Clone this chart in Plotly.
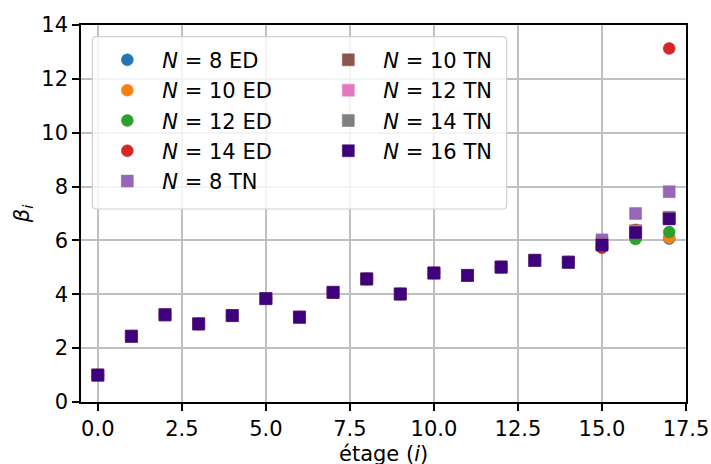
import plotly.graph_objects as go

stages = list(range(18))

common = [1.00, 2.44, 3.24, 2.90, 3.21, 3.84, 3.15, 4.07, 4.57, 4.01,
          4.79, 4.70, 5.01, 5.26, 5.19]

ed_n8 = common + [5.74, 6.12, 6.07]
ed_n10 = common + [5.75, 6.15, 6.11]
ed_n12 = common + [5.76, 6.05, 6.31]
ed_n14 = common + [5.74, 6.39, 13.13]

tn_n8 = common + [6.02, 7.00, 7.81]
tn_n10 = common + [5.88, 6.36, 6.86]
tn_n12 = common + [5.86, 6.33, 6.84]
tn_n14 = common + [5.84, 6.30, 6.82]
tn_n16 = common + [5.83, 6.29, 6.80]

series = [
    ("<i>N</i> = 8 ED", ed_n8, "circle", "#1f77b4", 1),
    ("<i>N</i> = 10 ED", ed_n10, "circle", "#ff7f0e", 3),
    ("<i>N</i> = 12 ED", ed_n12, "circle", "#2ca02c", 5),
    ("<i>N</i> = 14 ED", ed_n14, "circle", "#d62728", 7),
    ("<i>N</i> = 8 TN", tn_n8, "square", "#9467bd", 9),
    ("<i>N</i> = 10 TN", tn_n10, "square", "#8c564b", 2),
    ("<i>N</i> = 12 TN", tn_n12, "square", "#e377c2", 4),
    ("<i>N</i> = 14 TN", tn_n14, "square", "#7f7f7f", 6),
    ("<i>N</i> = 16 TN", tn_n16, "square", "#3f007d", 8),
]

fig = go.Figure()
for name, vals, sym, col, rank in series:
    fig.add_trace(go.Scatter(
        x=stages, y=vals, mode="markers", name=name,
        marker=dict(symbol=sym, size=12, color=col,
                    line=dict(width=0.5, color=col)),
        legendrank=rank,
    ))

font = dict(family="DejaVu Sans", size=21, color="black")
axis_common = dict(
    showline=True, linecolor="black", linewidth=1.5, mirror=True,
    ticks="outside", ticklen=7, tickwidth=1.5, tickcolor="black",
    showgrid=True, gridcolor="#c0c0c0", gridwidth=1.5,
    zeroline=False, tickfont=font, automargin=False,
)

# legend frame (rounded, semi-transparent) in paper coordinates
x0, x1, y0, y1 = 0.0187, 0.7036, 0.512, 0.969
rx, ry = 0.0066, 0.0106
frame_path = (
    f"M {x0+rx},{y1} L {x1-rx},{y1} Q {x1},{y1} {x1},{y1-ry} "
    f"L {x1},{y0+ry} Q {x1},{y0} {x1-rx},{y0} "
    f"L {x0+rx},{y0} Q {x0},{y0} {x0},{y0+ry} "
    f"L {x0},{y1-ry} Q {x0},{y1} {x0+rx},{y1} Z"
)

fig.update_layout(
    width=711, height=464,
    margin=dict(l=81, r=25, t=25, b=62),
    paper_bgcolor="white", plot_bgcolor="white",
    font=font,
    xaxis=dict(range=[-0.5, 17.5], tickmode="array",
               tickvals=[0, 2.5, 5, 7.5, 10, 12.5, 15, 17.5],
               ticktext=["0.0", "2.5", "5.0", "7.5", "10.0", "12.5", "15.0", "17.5"],
               **axis_common),
    yaxis=dict(range=[0, 14], tickmode="array",
               tickvals=[0, 2, 4, 6, 8, 10, 12, 14],
               title=dict(text="<i>β<sub>i</sub></i>", font=font, standoff=6),
               **axis_common),
    legend=dict(
        x=0.0187, y=0.961, xanchor="left", yanchor="top",
        orientation="h", entrywidth=146, entrywidthmode="pixels",
        bgcolor="rgba(0,0,0,0)", borderwidth=0,
        font=font, itemwidth=60,
    ),
    shapes=[dict(type="path", xref="paper", yref="paper", path=frame_path,
                 fillcolor="rgba(255,255,255,0.8)",
                 line=dict(color="#d0d0d0", width=1.2), layer="above")],
    annotations=[dict(text="étage (<i>i</i>)", xref="paper", yref="paper",
                      x=0.5, y=-0.137, xanchor="center", yanchor="middle",
                      showarrow=False, font=font)],
    showlegend=True,
)

fig.write_html("out.html")
